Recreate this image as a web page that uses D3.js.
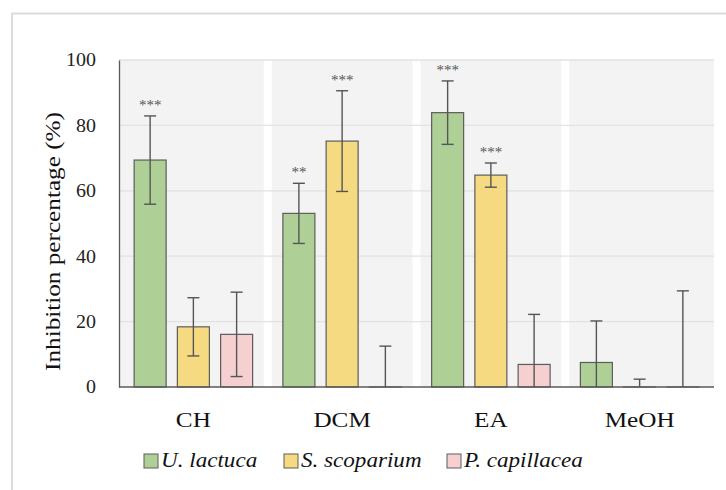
<!DOCTYPE html>
<html><head><meta charset="utf-8">
<script src="https://cdn.jsdelivr.net/npm/d3@7"></script>
<style>body{margin:0;background:#fff}svg{display:block}</style>
</head><body>
<svg id="c" width="726" height="490"></svg>
<script>
const categories = ["CH", "DCM", "EA", "MeOH"];
const seriesNames = ["U. lactuca", "S. scoparium", "P. capillacea"];
const colors = ["#aed096", "#f5da82", "#f6d0d0"];
const ulactuca = [69.4, 53.1, 83.9, 7.5];
const sscoparium = [18.4, 75.2, 64.8, 0];
const pcapillacea = [16.1, 0, 6.9, 0];
const ulactucaErr = [13.5, 9.2, 9.7, 12.7];
const sscopariumErr = [8.9, 15.4, 3.7, 2.4];
const pcapillaceaErr = [12.9, 12.5, 15.3, 29.4];
const ulactucaSig = ["***", "**", "***", ""];
const sscopariumSig = ["", "***", "***", ""];
const pcapillaceaSig = ["", "", "", ""];
const yTicks = [0, 20, 40, 60, 80, 100];

const values = [ulactuca, sscoparium, pcapillacea];
const errs = [ulactucaErr, sscopariumErr, pcapillaceaErr];
const sigs = [ulactucaSig, sscopariumSig, pcapillaceaSig];

const svg = d3.select("#c");
const font = "'Liberation Serif','Times New Roman',serif";
const L = 119, R = 714, T = 60, B = 387;

// outer frame
svg.append("rect").attr("x", 12).attr("y", 13.5).attr("width", 760).attr("height", 520)
  .attr("fill", "none").attr("stroke", "#dcdcdc").attr("stroke-width", 2);

const x = d3.scaleBand().domain(categories).range([L, R]).padding(0);
const y = d3.scaleLinear().domain([0, 100]).range([B, T]);
const xs = d3.scaleBand().domain(d3.range(3)).range([0, x.bandwidth()]).paddingInner(0.26).paddingOuter(0.35);

// bands
svg.append("g").selectAll("rect").data(categories).join("rect")
  .attr("x", (d, i) => x(d) + (i === 0 ? 0 : 4))
  .attr("width", (d, i) => x.bandwidth() - (i === 0 ? 0 : 4) - (i === categories.length - 1 ? 0 : 4))
  .attr("y", T).attr("height", B - T).attr("fill", "#f3f3f3");

// gridlines
svg.append("g").selectAll("line").data(yTicks.filter(d => d > 0)).join("line")
  .attr("x1", L).attr("x2", R).attr("y1", d => y(d)).attr("y2", d => y(d))
  .attr("stroke", "#e2e2e2").attr("stroke-width", 1.3);

// y axis
const yAxis = svg.append("g").attr("transform", `translate(${L},0)`)
  .call(d3.axisLeft(y).tickValues(yTicks).tickSize(0).tickPadding(23));
yAxis.select(".domain").attr("stroke", "#5a5a5a").attr("stroke-width", 1.3);
yAxis.selectAll(".tick text").each(function() {
  const t = d3.select(this);
  const tx = +t.attr("x");
  t.attr("x", null).attr("transform", `translate(${tx},0) scale(1.08,1)`);
}).attr("font-family", font).attr("font-size", 18.5).attr("fill", "#222");

// bars
const flat = [];
categories.forEach((c, ci) => values.forEach((s, si) => flat.push({c, ci, si, v: s[ci], e: errs[si][ci], sig: sigs[si][ci]})));
const bx = d => x(d.c) + xs(d.si);
svg.append("g").selectAll("rect").data(flat).join("rect")
  .attr("x", bx).attr("width", xs.bandwidth())
  .attr("y", d => y(d.v)).attr("height", d => Math.max(0.01, B - y(d.v)))
  .attr("fill", d => colors[d.si]).attr("stroke", "#5c5c5c").attr("stroke-width", 1.2);

// x axis baseline
svg.append("line").attr("x1", L).attr("x2", R).attr("y1", B).attr("y2", B)
  .attr("stroke", "#5a5a5a").attr("stroke-width", 1.3);

// error bars
const eg = svg.append("g").attr("stroke", "#555").attr("stroke-width", 1.4);
flat.forEach(d => {
  const cx = bx(d) + xs.bandwidth() / 2;
  const lo = Math.max(0, d.v - d.e), hi = d.v + d.e;
  eg.append("line").attr("x1", cx).attr("x2", cx).attr("y1", y(lo)).attr("y2", y(hi));
  eg.append("line").attr("x1", cx - 6).attr("x2", cx + 6).attr("y1", y(hi)).attr("y2", y(hi));
  if (d.v - d.e > 0) eg.append("line").attr("x1", cx - 6).attr("x2", cx + 6).attr("y1", y(lo)).attr("y2", y(lo));
});

// significance
svg.append("g").selectAll("text").data(flat.filter(d => d.sig)).join("text")
  .attr("x", d => bx(d) + xs.bandwidth() / 2).attr("y", d => y(d.v + d.e) - 6)
  .attr("text-anchor", "middle").attr("font-family", font).attr("font-size", 15).attr("fill", "#555")
  .text(d => d.sig);

// category labels
svg.append("g").selectAll("text").data(categories).join("text")
  .attr("transform", d => `translate(${x(d) + x.bandwidth() / 2},427) scale(1.2,1)`)
  .attr("text-anchor", "middle").attr("font-family", font).attr("font-size", 21).attr("fill", "#111")
  .text(d => d);

// y label
svg.append("text").attr("transform", `translate(60,${(T + B) / 2 + 18}) rotate(-90) scale(1.2,1)`)
  .attr("text-anchor", "middle").attr("font-family", font).attr("font-size", 21).attr("fill", "#111")
  .text("Inhibition percentage (%)");

// legend
const legX = [144, 284, 447];
const lg = svg.append("g");
seriesNames.forEach((n, i) => {
  lg.append("rect").attr("x", legX[i]).attr("y", 454).attr("width", 14).attr("height", 14)
    .attr("fill", colors[i]).attr("stroke", "#5c5c5c").attr("stroke-width", 1);
  lg.append("text").attr("transform", `translate(${legX[i] + 17},467) scale(1.1,1)`).attr("font-family", font)
    .attr("font-style", "italic").attr("font-size", 21).attr("fill", "#111").text(n);
});
</script>
</body></html>
